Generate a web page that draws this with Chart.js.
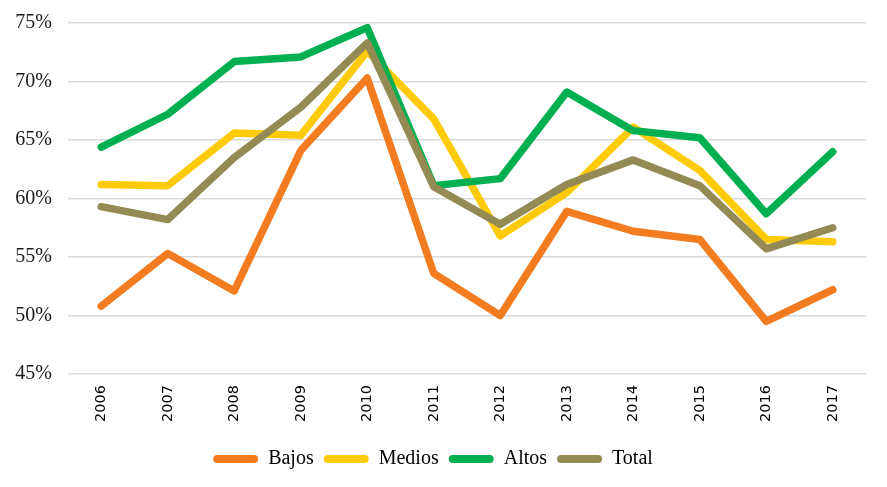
<!DOCTYPE html>
<html>
<head>
<meta charset="utf-8">
<script src="https://cdn.jsdelivr.net/npm/chart.js@4/dist/chart.umd.min.js"></script>
<style>
  html, body { margin: 0; padding: 0; background: #ffffff; }
  #wrap { width: 887px; height: 487px; position: relative; }
</style>
</head>
<body>
<div id="wrap"><canvas id="c"></canvas></div>
<script>
const years = ['2006','2007','2008','2009','2010','2011','2012','2013','2014','2015','2016','2017'];
const bajos  = [50.8, 55.3, 52.1, 64.1, 70.3, 53.6, 50.0, 58.9, 57.2, 56.5, 49.5, 52.2];
const medios = [61.2, 61.1, 65.6, 65.4, 72.6, 66.8, 56.8, 60.5, 66.1, 62.4, 56.5, 56.3];
const altos  = [64.4, 67.2, 71.7, 72.1, 74.6, 61.1, 61.7, 69.1, 65.8, 65.2, 58.7, 64.0];
const total  = [59.3, 58.2, 63.5, 67.8, 73.3, 61.0, 57.8, 61.2, 63.3, 61.1, 55.7, 57.5];
const seriesNames = ['Bajos', 'Medios', 'Altos', 'Total'];
const yTicks = [45, 50, 55, 60, 65, 70, 75];

const colors = ['#F47C20', '#FFCA08', '#00B050', '#948A54'];
const seriesData = [bajos, medios, altos, total];

const datasets = seriesData.map((d, i) => ({
  label: seriesNames[i],
  data: d,
  borderColor: colors[i],
  backgroundColor: colors[i],
  borderWidth: 7.5,
  pointRadius: 0,
  pointHoverRadius: 0,
  tension: 0,
  fill: false,
  borderCapStyle: 'round',
  borderJoinStyle: 'round',
  order: 4 - i
}));

new Chart(document.getElementById('c'), {
  type: 'line',
  data: { labels: years, datasets: datasets },
  options: {
    responsive: true,
    maintainAspectRatio: false,
    animation: false,
    layout: { padding: { left: 0, right: 21, top: 23, bottom: 8 } },
    plugins: {
      tooltip: { enabled: false },
      legend: {
        position: 'bottom',
        labels: {
          boxWidth: 45,
          boxHeight: 8,
          padding: 10,
          color: '#000000',
          font: { family: "'Liberation Serif', serif", size: 20 },
          generateLabels: (chart) => chart.data.datasets.map((ds, i) => ({
            text: ds.label,
            fillStyle: ds.borderColor,
            strokeStyle: ds.borderColor,
            lineWidth: 0,
            hidden: false,
            datasetIndex: i,
            borderRadius: 4
          })),
          useBorderRadius: true,
          borderRadius: 4
        }
      }
    },
    scales: {
      x: {
        offset: true,
        grid: { display: false, drawTicks: false },
        border: { display: false },
        ticks: {
          minRotation: 90,
          maxRotation: 90,
          padding: 11,
          color: '#000000',
          font: { family: "'DejaVu Sans', sans-serif", size: 14.5 }
        },
        afterFit: (scale) => { scale.height = 65; }
      },
      y: {
        min: 45,
        max: 75,
        afterBuildTicks: (scale) => { scale.ticks = yTicks.map(v => ({ value: v })); },
        grid: { color: '#D9D9D9', lineWidth: 1.5, drawTicks: false },
        border: { display: false },
        ticks: {
          padding: 16,
          color: '#1a1a1a',
          font: { family: "'Liberation Serif', serif", size: 20 },
          callback: (v) => v + '%'
        },
        afterFit: (scale) => {
          scale.width = 68;
          scale.paddingTop = 0;
          scale.paddingBottom = 0;
        }
      }
    }
  }
});
</script>
</body>
</html>
